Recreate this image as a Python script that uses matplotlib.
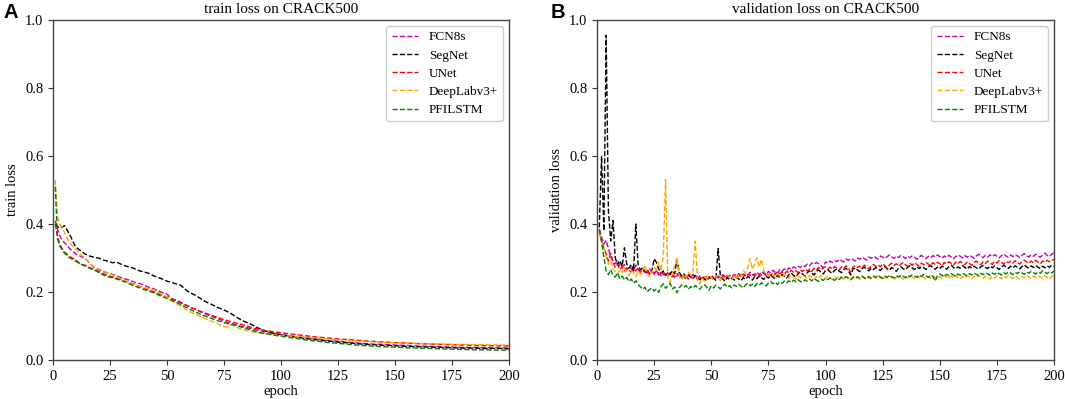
import matplotlib
matplotlib.use("Agg")
import matplotlib.pyplot as plt

models = ["FCN8s", "SegNet", "UNet", "DeepLabv3+", "PFILSTM"]
colors = ["#bf00bf", "black", "red", "orange", "green"]

train_epochs = list(range(1, 11)) + list(range(12, 101, 2)) + list(range(105, 201, 5))
val_epochs = list(range(1, 201))

train_fcn8s = [0.410, 0.385, 0.365, 0.352, 0.345, 0.338, 0.330, 0.323, 0.318, 0.312,
               0.305, 0.300, 0.285, 0.272, 0.266, 0.260, 0.256, 0.252, 0.247, 0.242,
               0.238, 0.234, 0.228, 0.225, 0.220, 0.214, 0.210, 0.204, 0.198, 0.194,
               0.180, 0.176, 0.170, 0.163, 0.156, 0.150, 0.144, 0.138, 0.132, 0.127,
               0.122, 0.117, 0.112, 0.108, 0.104, 0.100, 0.097, 0.094, 0.090, 0.087,
               0.084, 0.081, 0.079, 0.077, 0.075,
               0.070, 0.066, 0.062, 0.058, 0.055, 0.052, 0.049, 0.047, 0.046, 0.044,
               0.043, 0.041, 0.040, 0.039, 0.038, 0.037, 0.037, 0.036, 0.036, 0.035]
train_segnet = [0.400, 0.392, 0.388, 0.390, 0.395, 0.385, 0.372, 0.360, 0.345, 0.332,
                0.322, 0.312, 0.306, 0.302, 0.300, 0.294, 0.291, 0.286, 0.288, 0.281,
                0.276, 0.273, 0.268, 0.262, 0.259, 0.255, 0.248, 0.243, 0.238, 0.232,
                0.228, 0.224, 0.220, 0.208, 0.198, 0.192, 0.184, 0.175, 0.168, 0.162,
                0.155, 0.150, 0.144, 0.137, 0.128, 0.120, 0.113, 0.108, 0.101, 0.094,
                0.088, 0.084, 0.080, 0.077, 0.074,
                0.069, 0.064, 0.060, 0.056, 0.053, 0.050, 0.047, 0.045, 0.043, 0.042,
                0.040, 0.039, 0.038, 0.037, 0.036, 0.035, 0.035, 0.034, 0.034, 0.033]
train_unet = [0.400, 0.362, 0.340, 0.328, 0.318, 0.312, 0.306, 0.302, 0.298, 0.295,
              0.282, 0.279, 0.272, 0.266, 0.260, 0.254, 0.249, 0.244, 0.241, 0.236,
              0.232, 0.226, 0.221, 0.216, 0.211, 0.206, 0.201, 0.196, 0.190, 0.186,
              0.180, 0.174, 0.168, 0.162, 0.156, 0.150, 0.145, 0.140, 0.135, 0.130,
              0.126, 0.121, 0.117, 0.113, 0.109, 0.106, 0.102, 0.098, 0.094, 0.091,
              0.088, 0.086, 0.084, 0.082, 0.080,
              0.076, 0.072, 0.068, 0.065, 0.062, 0.060, 0.057, 0.055, 0.053, 0.051,
              0.050, 0.048, 0.047, 0.046, 0.045, 0.044, 0.043, 0.042, 0.042, 0.041]
train_deeplab = [0.530, 0.420, 0.400, 0.390, 0.375, 0.362, 0.350, 0.340, 0.332, 0.325,
                 0.312, 0.298, 0.285, 0.274, 0.268, 0.262, 0.256, 0.250, 0.245, 0.238,
                 0.233, 0.228, 0.222, 0.217, 0.213, 0.210, 0.207, 0.200, 0.192, 0.186,
                 0.175, 0.166, 0.158, 0.150, 0.142, 0.136, 0.130, 0.124, 0.118, 0.113,
                 0.108, 0.100, 0.097, 0.104, 0.098, 0.092, 0.088, 0.085, 0.082, 0.080,
                 0.078, 0.076, 0.074, 0.073, 0.072,
                 0.070, 0.068, 0.065, 0.062, 0.060, 0.058, 0.056, 0.054, 0.052, 0.051,
                 0.050, 0.049, 0.048, 0.047, 0.046, 0.046, 0.045, 0.045, 0.044, 0.044]
train_pfilstm = [0.510, 0.355, 0.335, 0.324, 0.315, 0.308, 0.302, 0.298, 0.294, 0.290,
                 0.283, 0.276, 0.270, 0.265, 0.258, 0.250, 0.245, 0.242, 0.238, 0.233,
                 0.229, 0.222, 0.217, 0.212, 0.207, 0.203, 0.198, 0.192, 0.186, 0.181,
                 0.175, 0.170, 0.163, 0.156, 0.149, 0.143, 0.137, 0.131, 0.126, 0.121,
                 0.116, 0.112, 0.108, 0.105, 0.102, 0.098, 0.094, 0.090, 0.086, 0.082,
                 0.079, 0.077, 0.074, 0.072, 0.070,
                 0.065, 0.060, 0.056, 0.052, 0.049, 0.046, 0.043, 0.041, 0.039, 0.038,
                 0.036, 0.035, 0.034, 0.033, 0.032, 0.031, 0.030, 0.030, 0.029, 0.029]

val_fcn8s = [0.385, 0.362, 0.341, 0.352, 0.328, 0.302, 0.291, 0.283, 0.294, 0.276, 0.272, 0.281, 0.265, 0.274, 0.268, 0.262, 0.279, 0.266, 0.258, 0.271,
             0.262, 0.255, 0.268, 0.259, 0.251, 0.263, 0.256, 0.248, 0.258, 0.252, 0.246, 0.257, 0.249, 0.243, 0.254, 0.247, 0.251, 0.244, 0.238, 0.249,
             0.243, 0.252, 0.245, 0.239, 0.248, 0.242, 0.236, 0.246, 0.241, 0.249, 0.243, 0.237, 0.247, 0.242, 0.251, 0.245, 0.240, 0.249, 0.244, 0.252,
             0.246, 0.254, 0.249, 0.243, 0.255, 0.250, 0.258, 0.252, 0.247, 0.257, 0.251, 0.260, 0.255, 0.249, 0.261, 0.256, 0.264, 0.258, 0.253, 0.266,
             0.261, 0.268, 0.263, 0.271, 0.266, 0.274, 0.270, 0.276, 0.272, 0.279, 0.275, 0.282, 0.277, 0.285, 0.281, 0.287, 0.283, 0.278, 0.271, 0.289,
             0.284, 0.291, 0.287, 0.293, 0.289, 0.296, 0.292, 0.288, 0.297, 0.293, 0.299, 0.295, 0.291, 0.300, 0.296, 0.302, 0.298, 0.294, 0.303, 0.299,
             0.305, 0.301, 0.297, 0.306, 0.302, 0.298, 0.304, 0.309, 0.303, 0.299, 0.306, 0.301, 0.308, 0.304, 0.298, 0.305, 0.301, 0.307, 0.302, 0.296,
             0.303, 0.308, 0.302, 0.298, 0.305, 0.300, 0.307, 0.303, 0.309, 0.304, 0.299, 0.306, 0.301, 0.308, 0.303, 0.297, 0.304, 0.309, 0.305, 0.300,
             0.307, 0.302, 0.308, 0.304, 0.299, 0.306, 0.311, 0.305, 0.301, 0.308, 0.303, 0.309, 0.304, 0.310, 0.305, 0.300, 0.307, 0.312, 0.306, 0.302,
             0.309, 0.304, 0.310, 0.306, 0.301, 0.308, 0.313, 0.307, 0.303, 0.310, 0.305, 0.311, 0.306, 0.302, 0.309, 0.314, 0.308, 0.304, 0.311, 0.315]
val_segnet = [0.390, 0.600, 0.380, 0.955, 0.440, 0.350, 0.410, 0.300, 0.280, 0.292, 0.275, 0.330, 0.283, 0.270, 0.281, 0.262, 0.400, 0.278, 0.265, 0.271,
              0.258, 0.266, 0.252, 0.261, 0.298, 0.287, 0.268, 0.255, 0.262, 0.249, 0.257, 0.251, 0.263, 0.254, 0.296, 0.258, 0.247, 0.253, 0.244, 0.251,
              0.245, 0.238, 0.249, 0.241, 0.236, 0.246, 0.239, 0.233, 0.244, 0.237, 0.242, 0.234, 0.328, 0.246, 0.238, 0.232, 0.243, 0.236, 0.241, 0.235,
              0.244, 0.238, 0.233, 0.242, 0.237, 0.246, 0.240, 0.235, 0.245, 0.239, 0.248, 0.242, 0.237, 0.247, 0.241, 0.250, 0.244, 0.239, 0.249, 0.243,
              0.252, 0.246, 0.241, 0.251, 0.256, 0.249, 0.244, 0.254, 0.259, 0.252, 0.247, 0.257, 0.262, 0.255, 0.250, 0.260, 0.265, 0.258, 0.253, 0.263,
              0.266, 0.259, 0.255, 0.264, 0.268, 0.261, 0.257, 0.266, 0.270, 0.263, 0.250, 0.267, 0.271, 0.264, 0.260, 0.269, 0.273, 0.266, 0.262, 0.270,
              0.266, 0.272, 0.268, 0.263, 0.271, 0.275, 0.268, 0.264, 0.272, 0.267, 0.261, 0.270, 0.274, 0.268, 0.265, 0.273, 0.277, 0.270, 0.266, 0.274,
              0.269, 0.275, 0.271, 0.266, 0.274, 0.278, 0.271, 0.267, 0.273, 0.268, 0.276, 0.272, 0.267, 0.275, 0.279, 0.272, 0.268, 0.274, 0.270, 0.277,
              0.272, 0.267, 0.275, 0.270, 0.276, 0.271, 0.268, 0.274, 0.278, 0.272, 0.269, 0.276, 0.271, 0.277, 0.272, 0.266, 0.274, 0.279, 0.273, 0.269,
              0.276, 0.271, 0.277, 0.273, 0.268, 0.275, 0.280, 0.274, 0.270, 0.277, 0.272, 0.278, 0.273, 0.269, 0.276, 0.271, 0.277, 0.273, 0.279, 0.275]
val_unet = [0.385, 0.352, 0.328, 0.312, 0.291, 0.314, 0.288, 0.272, 0.281, 0.266, 0.274, 0.262, 0.270, 0.265, 0.259, 0.268, 0.262, 0.271, 0.258, 0.264,
            0.257, 0.266, 0.253, 0.261, 0.255, 0.263, 0.250, 0.258, 0.252, 0.247, 0.256, 0.249, 0.244, 0.253, 0.247, 0.255, 0.243, 0.250, 0.245, 0.238,
            0.246, 0.241, 0.249, 0.236, 0.244, 0.239, 0.247, 0.242, 0.236, 0.245, 0.240, 0.248, 0.243, 0.238, 0.246, 0.241, 0.249, 0.244, 0.239, 0.247,
            0.242, 0.250, 0.245, 0.253, 0.248, 0.243, 0.251, 0.246, 0.254, 0.249, 0.244, 0.252, 0.258, 0.250, 0.255, 0.249, 0.257, 0.252, 0.260, 0.254,
            0.259, 0.253, 0.261, 0.256, 0.264, 0.258, 0.263, 0.257, 0.265, 0.260, 0.268, 0.262, 0.267, 0.261, 0.270, 0.264, 0.272, 0.266, 0.270, 0.274,
            0.268, 0.273, 0.267, 0.275, 0.270, 0.265, 0.274, 0.269, 0.277, 0.271, 0.258, 0.273, 0.278, 0.272, 0.276, 0.270, 0.279, 0.274, 0.268, 0.277,
            0.281, 0.275, 0.280, 0.274, 0.283, 0.277, 0.271, 0.280, 0.285, 0.278, 0.283, 0.276, 0.282, 0.287, 0.280, 0.275, 0.284, 0.279, 0.286, 0.281,
            0.276, 0.285, 0.280, 0.287, 0.282, 0.277, 0.286, 0.281, 0.288, 0.283, 0.278, 0.287, 0.282, 0.289, 0.284, 0.279, 0.288, 0.283, 0.290, 0.285,
            0.280, 0.289, 0.284, 0.278, 0.287, 0.291, 0.285, 0.280, 0.289, 0.284, 0.291, 0.286, 0.281, 0.290, 0.285, 0.292, 0.287, 0.282, 0.290, 0.286,
            0.291, 0.285, 0.292, 0.287, 0.282, 0.290, 0.294, 0.288, 0.284, 0.291, 0.286, 0.293, 0.288, 0.283, 0.291, 0.287, 0.293, 0.289, 0.292, 0.296]
val_deeplab = [0.372, 0.351, 0.330, 0.302, 0.281, 0.292, 0.268, 0.259, 0.252, 0.266, 0.258, 0.272, 0.255, 0.248, 0.263, 0.257, 0.245, 0.261, 0.252, 0.266,
               0.279, 0.256, 0.244, 0.258, 0.272, 0.265, 0.288, 0.262, 0.305, 0.530, 0.238, 0.228, 0.256, 0.278, 0.302, 0.247, 0.236, 0.252, 0.243, 0.258,
               0.249, 0.262, 0.350, 0.238, 0.224, 0.241, 0.232, 0.246, 0.238, 0.244, 0.235, 0.248, 0.240, 0.233, 0.245, 0.237, 0.250, 0.242, 0.236, 0.247,
               0.240, 0.252, 0.245, 0.263, 0.256, 0.272, 0.298, 0.268, 0.282, 0.300, 0.274, 0.296, 0.262, 0.255, 0.249, 0.258, 0.251, 0.245, 0.253, 0.248,
               0.243, 0.251, 0.246, 0.240, 0.249, 0.244, 0.238, 0.247, 0.242, 0.250, 0.245, 0.239, 0.248, 0.243, 0.237, 0.246, 0.241, 0.249, 0.244, 0.240,
               0.247, 0.242, 0.236, 0.245, 0.240, 0.248, 0.243, 0.238, 0.246, 0.241, 0.235, 0.244, 0.249, 0.242, 0.237, 0.245, 0.240, 0.247, 0.243, 0.238,
               0.246, 0.241, 0.248, 0.243, 0.237, 0.245, 0.240, 0.247, 0.242, 0.236, 0.244, 0.249, 0.243, 0.238, 0.246, 0.241, 0.248, 0.244, 0.239, 0.246,
               0.242, 0.248, 0.243, 0.237, 0.245, 0.240, 0.247, 0.243, 0.238, 0.246, 0.241, 0.249, 0.244, 0.239, 0.247, 0.242, 0.248, 0.243, 0.238, 0.246,
               0.241, 0.248, 0.244, 0.239, 0.247, 0.242, 0.249, 0.244, 0.240, 0.247, 0.243, 0.238, 0.246, 0.241, 0.248, 0.244, 0.239, 0.247, 0.242, 0.249,
               0.244, 0.240, 0.248, 0.243, 0.238, 0.246, 0.242, 0.249, 0.244, 0.240, 0.247, 0.243, 0.249, 0.245, 0.240, 0.248, 0.243, 0.238, 0.246, 0.250]
val_pfilstm = [0.382, 0.348, 0.302, 0.262, 0.251, 0.266, 0.248, 0.244, 0.256, 0.239, 0.247, 0.236, 0.243, 0.231, 0.238, 0.226, 0.233, 0.222, 0.215, 0.208,
               0.214, 0.201, 0.207, 0.212, 0.203, 0.209, 0.199, 0.216, 0.224, 0.211, 0.218, 0.226, 0.209, 0.215, 0.198, 0.212, 0.221, 0.214, 0.219, 0.208,
               0.216, 0.211, 0.219, 0.213, 0.208, 0.217, 0.222, 0.214, 0.205, 0.218, 0.212, 0.220, 0.215, 0.209, 0.218, 0.223, 0.214, 0.219, 0.212, 0.221,
               0.216, 0.223, 0.217, 0.212, 0.221, 0.226, 0.218, 0.223, 0.216, 0.225, 0.220, 0.227, 0.222, 0.218, 0.226, 0.231, 0.224, 0.229, 0.222, 0.230,
               0.225, 0.232, 0.227, 0.233, 0.228, 0.235, 0.230, 0.236, 0.231, 0.228, 0.236, 0.232, 0.238, 0.233, 0.239, 0.235, 0.231, 0.238, 0.234, 0.240,
               0.236, 0.242, 0.238, 0.234, 0.241, 0.237, 0.243, 0.239, 0.245, 0.240, 0.236, 0.243, 0.239, 0.245, 0.241, 0.247, 0.242, 0.238, 0.245, 0.241,
               0.247, 0.243, 0.249, 0.244, 0.240, 0.247, 0.243, 0.249, 0.245, 0.241, 0.248, 0.244, 0.250, 0.246, 0.242, 0.249, 0.245, 0.251, 0.247, 0.243,
               0.250, 0.246, 0.252, 0.247, 0.243, 0.250, 0.246, 0.232, 0.248, 0.253, 0.249, 0.245, 0.252, 0.248, 0.254, 0.250, 0.246, 0.253, 0.249, 0.255,
               0.251, 0.247, 0.254, 0.250, 0.256, 0.252, 0.248, 0.255, 0.251, 0.257, 0.253, 0.249, 0.256, 0.252, 0.258, 0.254, 0.250, 0.257, 0.253, 0.259,
               0.255, 0.251, 0.258, 0.254, 0.260, 0.256, 0.252, 0.259, 0.255, 0.261, 0.257, 0.253, 0.259, 0.255, 0.262, 0.258, 0.254, 0.260, 0.256, 0.262]

train_series = [train_fcn8s, train_segnet, train_unet, train_deeplab, train_pfilstm]
val_series = [val_fcn8s, val_segnet, val_unet, val_deeplab, val_pfilstm]

plt.rcParams["font.family"] = ["Liberation Serif", "DejaVu Serif"]
W, H = 1065, 399
fig = plt.figure(figsize=(W / 100, H / 100), dpi=100)

ax1 = fig.add_axes([53 / W, 39 / H, 456 / W, 340 / H])
ax2 = fig.add_axes([597 / W, 39 / H, 457 / W, 340 / H])

panels = [
    (ax1, train_epochs, train_series, "train loss on CRACK500", "train loss", "A", 3 / W),
    (ax2, val_epochs, val_series, "validation loss on CRACK500", "validation loss", "B", 551 / W),
]

for ax, xs, series, title, ylabel, letter, lx in panels:
    for name, col, ys in zip(models, colors, series):
        ax.plot(xs, ys, linestyle="--", color=col, linewidth=1.0, label=name)
    ax.set_xlim(0, 200)
    ax.set_ylim(0, 1.0)
    ax.set_xticks(range(0, 201, 25))
    ax.set_yticks([0.0, 0.2, 0.4, 0.6, 0.8, 1.0])
    ax.tick_params(labelsize=10.5, length=3.5, width=0.8, colors="#333333", labelcolor="black")
    for s in ax.spines.values():
        s.set_color("#444444")
        s.set_linewidth(1.0)
    ax.set_title(title, fontsize=11, pad=5)
    ax.set_xlabel("epoch", fontsize=10.5, labelpad=2)
    ax.set_ylabel(ylabel, fontsize=10.5, labelpad=4)
    ax.legend(loc="upper right", fontsize=9.5, frameon=True, fancybox=True,
              framealpha=1.0, edgecolor="#cccccc", handlelength=2.0,
              borderaxespad=0.45, labelspacing=0.45)
    fig.text(lx, 1 - 3 / H, letter, fontsize=14.5, fontweight="bold",
             family="Liberation Sans", ha="left", va="top")

fig.savefig("out.png", dpi=100)
